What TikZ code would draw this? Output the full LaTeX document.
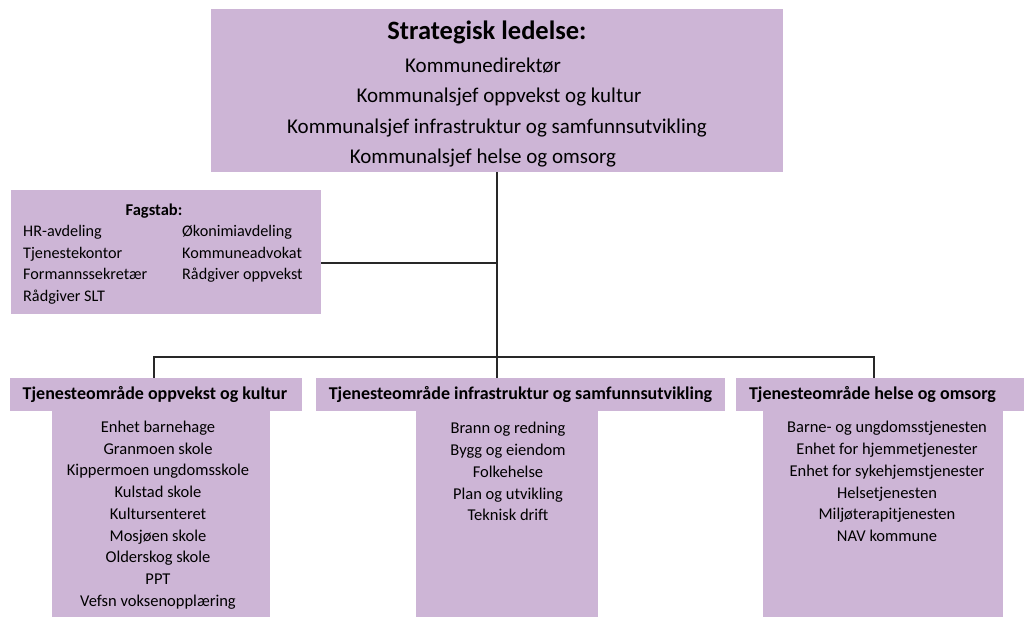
\documentclass[tikz,border=0pt]{standalone}
\usepackage{fontspec}
\setmainfont{Carlito}
\definecolor{lil}{RGB}{205,181,214}
\definecolor{ln}{RGB}{40,40,40}
\begin{document}
\begin{tikzpicture}[x=1pt,y=-1pt,
  box/.style={fill=lil, draw=none, inner sep=0pt, anchor=north west},
  conn/.style={draw=ln, line width=1.5pt},
  txt/.style={inner sep=0pt, text height=0.9em, text depth=0.1em},
  toptxt/.style={txt, font=\fontsize{21}{25}\selectfont},
  titletxt/.style={txt, font=\fontsize{26.5}{30}\selectfont\bfseries},
  headtxt/.style={txt, font=\fontsize{18}{21}\selectfont\bfseries},
  itemtxt/.style={txt, font=\fontsize{16.5}{20}\selectfont},
  fagtxt/.style={txt, anchor=west, font=\fontsize{16.2}{19}\selectfont}]
\useasboundingbox (0,0) rectangle (1026,617);

% boxes
\node[box, minimum width=572pt, minimum height=163pt] (top) at (211,9) {};
\node[box, minimum width=310pt, minimum height=124pt] (fag) at (11,190) {};
\node[box, minimum width=292pt, minimum height=33pt] (lh) at (10,378) {};
\node[box, minimum width=218pt, minimum height=206pt] (lb) at (52,411) {};
\node[box, minimum width=409pt, minimum height=33pt] (mh) at (316,378) {};
\node[box, minimum width=182pt, minimum height=206pt] (mb) at (416,411) {};
\node[box, minimum width=288pt, minimum height=33pt] (rh) at (736,378) {};
\node[box, minimum width=240pt, minimum height=206pt] (rb) at (763,411) {};

% top texts
\node[titletxt] (t0) at (487,36) {Strategisk ledelse:};
\node[toptxt] (t1) at (483,69) {Kommunedirektør};
\node[toptxt] (t2) at (499,99) {Kommunalsjef oppvekst og kultur};
\node[toptxt] (t3) at (497,129.5) {Kommunalsjef infrastruktur og samfunnsutvikling};
\node[toptxt] (t4) at (483,160) {Kommunalsjef helse og omsorg};

% fagstab texts
\node[txt, font=\fontsize{16.5}{19}\selectfont\bfseries] (f0) at (154,212) {Fagstab:};
\node[fagtxt] (f1) at (23,233) {HR-avdeling};
\node[fagtxt] (f2) at (23,254.5) {Tjenestekontor};
\node[fagtxt] (f3) at (23,276) {Formannssekretær};
\node[fagtxt] (f4) at (23,298) {Rådgiver SLT};
\node[fagtxt] (f5) at (182,233) {Økonimiavdeling};
\node[fagtxt] (f6) at (182,254.5) {Kommuneadvokat};
\node[fagtxt] (f7) at (182,276) {Rådgiver oppvekst};

% headers
\node[headtxt] (lht) at (155,396) {Tjenesteområde oppvekst og kultur};
\node[headtxt] (mht) at (520.5,396) {Tjenesteområde infrastruktur og samfunnsutvikling};
\node[headtxt] (rht) at (872.5,396) {Tjenesteområde helse og omsorg};

% lists
\foreach \t [count=\i] in {Enhet barnehage,Granmoen skole,Kippermoen ungdomsskole,Kulstad skole,Kultursenteret,Mosjøen skole,Olderskog skole,PPT,Vefsn voksenopplæring}
  \node[itemtxt] (l\i) at ({158},{428.5+21.7*(\i-1)}) {\t};
\foreach \t [count=\i] in {Brann og redning,Bygg og eiendom,Folkehelse,Plan og utvikling,Teknisk drift}
  \node[itemtxt] (m\i) at ({508},{430+21.7*(\i-1)}) {\t};
\foreach \t [count=\i] in {Barne- og ungdomsstjenesten,Enhet for hjemmetjenester,Enhet for sykehjemstjenester,Helsetjenesten,Miljøterapitjenesten,NAV kommune}
  \node[itemtxt] (r\i) at ({887},{429+21.7*(\i-1)}) {\t};

% connectors
\coordinate (fork) at (497,263);
\coordinate (bl) at (154,357);
\coordinate (br) at (874,357);
\draw[conn] (top.south -| fork) -- (fork |- mh.north);
\draw[conn] (fag.east |- fork) -- (fork);
\draw[conn] (bl |- lh.north) -- (bl) -- (br) -- (br |- rh.north);
\end{tikzpicture}
\end{document}
